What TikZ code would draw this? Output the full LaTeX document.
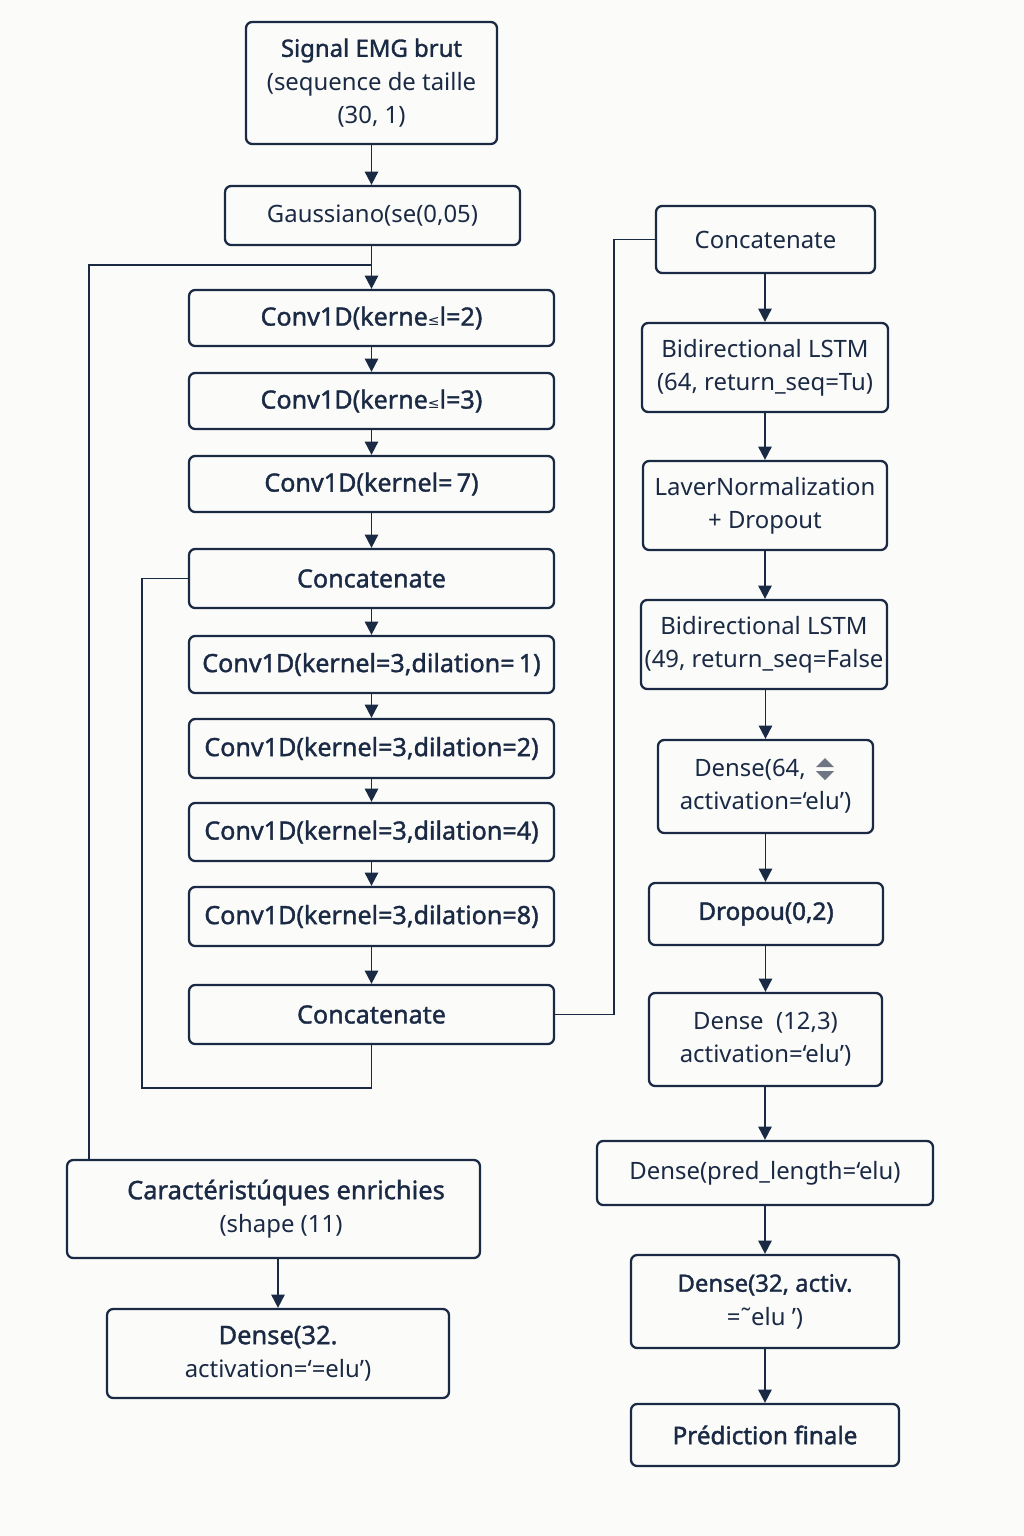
\documentclass[tikz,border=0pt]{standalone}
\usepackage{fontspec}
\setmainfont{Noto Sans}
\newfontfamily\medfont[FakeBold=1.4]{Noto Sans}
\newfontfamily\strongfont[FakeBold=1.8]{Noto Sans}
\newfontfamily\symfont{DejaVu Sans}
\usetikzlibrary{arrows.meta}
\definecolor{ink}{HTML}{1B2A44}
\definecolor{bg}{HTML}{FBFBF9}
\definecolor{icon}{HTML}{6E7684}
\begin{document}
\begin{tikzpicture}[x=0.02cm,y=-0.02cm,
  box/.style={draw=ink, line width=1.3pt, rounded corners=3.5pt, fill=bg, text=ink,
    inner sep=0pt, align=center, font=\fontsize{13.6}{19}\selectfont},
  medbox/.style={box, font=\medfont\fontsize{14.3}{19}\selectfont},
  strongbox/.style={box, font=\strongfont\fontsize{13.8}{19}\selectfont},
  arr/.style={draw=ink, line width=1.1pt, -{Triangle[width=7.5pt,length=7.5pt]}},
  wire/.style={draw=ink, line width=1.1pt}]
\fill[bg] (0,0) rectangle (1024,1536);
\useasboundingbox (0,0) rectangle (1024,1536);

% left column
\node[box, minimum width=5.02cm, minimum height=2.44cm] (sig) at (371.5,83)
  {{\medfont Signal EMG brut}\\(sequence de taille\\(30, 1)};
\node[box, minimum width=5.90cm, minimum height=1.18cm] (gau) at (372.5,215.5) {Gaussiano(se(0,05)};
\node[medbox, minimum width=7.30cm, minimum height=1.12cm] (c1) at (371.5,318)
  {Conv1D(kerne{\symfont\fontsize{8}{8}\selectfont ≤}l=2)};
\node[medbox, minimum width=7.30cm, minimum height=1.12cm] (c2) at (371.5,401)
  {Conv1D(kerne{\symfont\fontsize{8}{8}\selectfont ≤}l=3)};
\node[medbox, minimum width=7.30cm, minimum height=1.12cm] (c3) at (371.5,484) {Conv1D(kernel=\,7)};
\node[medbox, minimum width=7.30cm, minimum height=1.18cm] (cA) at (371.5,578.5) {Concatenate};
\node[medbox, minimum width=7.30cm, minimum height=1.14cm] (d1) at (371.5,664.5) {Conv1D(kernel=3,dilation=\,1)};
\node[medbox, minimum width=7.30cm, minimum height=1.18cm] (d2) at (371.5,748.5) {Conv1D(kernel=3,dilation=2)};
\node[medbox, minimum width=7.30cm, minimum height=1.16cm] (d4) at (371.5,832) {Conv1D(kernel=3,dilation=4)};
\node[medbox, minimum width=7.30cm, minimum height=1.18cm] (d8) at (371.5,916.5) {Conv1D(kernel=3,dilation=8)};
\node[medbox, minimum width=7.30cm, minimum height=1.18cm] (cB) at (371.5,1014.5) {Concatenate};

% right column
\node[box, minimum width=4.38cm, minimum height=1.34cm] (cR) at (765.5,239.5) {Concatenate};
\node[box, minimum width=4.92cm, minimum height=1.78cm] (l1) at (765,367.5)
  {Bidirectional LSTM\\(64, return\_seq=Tu)};
\node[box, minimum width=4.88cm, minimum height=1.78cm] (ln) at (765,505.5)
  {LaverNormalization\\+ Dropout};
\node[box, minimum width=4.92cm, minimum height=1.78cm] (l2) at (764,644.5)
  {Bidirectional LSTM\\(49, return\_seq=False};
\node[box, minimum width=4.30cm, minimum height=1.86cm] (e64) at (765.5,786.5)
  {Dense(64,\rule{0.62cm}{0pt}\\activation=‘elu’)};
\node[strongbox, minimum width=4.68cm, minimum height=1.24cm] (dr) at (766,914) {Dropou(0,2)};
\node[box, minimum width=4.66cm, minimum height=1.86cm] (e12) at (765.5,1039.5)
  {Dense\ \ (12,3)\\activation=‘elu’)};
\node[box, minimum width=6.72cm, minimum height=1.28cm] (ep) at (765,1173) {Dense(pred\_length=‘elu)};
\node[box, minimum width=5.36cm, minimum height=1.86cm] (e32) at (765,1301.5)
  {{\medfont Dense(32, activ.}\\=˜elu ’)};
\node[strongbox, minimum width=5.36cm, minimum height=1.24cm] (pf) at (765,1435) {Prédiction finale};

% bottom left
\node[box, minimum width=8.26cm, minimum height=1.96cm] (car) at (273.5,1209)
  {\hspace*{0.5cm}{\medfont\fontsize{14.5}{19}\selectfont Caractéristúques enrichies}\\\hspace*{0.3cm}(shape (11)};
\node[box, minimum width=6.84cm, minimum height=1.78cm] (e32l) at (278,1353.5)
  {{\medfont\fontsize{14.5}{19}\selectfont Dense(32.}\\activation=‘=elu’)};

% icon in Dense(64)
\fill[icon] (816,767) -- (825,758) -- (834,767) -- cycle;
\fill[icon] (816,771) -- (834,771) -- (825,780) -- cycle;

% connectors left
\coordinate (split) at (372,265);
\coordinate (carin) at (89,1160);
\draw[arr] (sig.south) -- (sig.south |- gau.north);
\draw[arr] (gau.south -| c1.north) -- (c1.north);
\draw[wire] (split) -| (carin);
\draw[arr] (c1) -- (c2);
\draw[arr] (c2) -- (c3);
\draw[arr] (c3) -- (cA);
\draw[arr] (cA) -- (d1);
\draw[arr] (d1) -- (d2);
\draw[arr] (d2) -- (d4);
\draw[arr] (d4) -- (d8);
\draw[arr] (d8) -- (cB);
\draw[wire] (cA.west) -| (142,1088) -| (cB.south);
\draw[wire] (cB.east) -| (614,239.5) -- (cR.west);
\draw[arr] (car.south -| e32l.north) -- (e32l.north);

% connectors right
\draw[arr] (cR.south -| l1.north) -- (l1.north);
\draw[arr] (l1) -- (ln);
\draw[arr] (ln.south) -- (ln.south |- l2.north);
\draw[arr] (l2.south -| e64.north) -- (e64.north);
\draw[arr] (e64.south) -- (e64.south |- dr.north);
\draw[arr] (dr.south -| e12.north) -- (e12.north);
\draw[arr] (e12.south -| ep.north) -- (ep.north);
\draw[arr] (ep) -- (e32);
\draw[arr] (e32) -- (pf);
\end{tikzpicture}
\end{document}
